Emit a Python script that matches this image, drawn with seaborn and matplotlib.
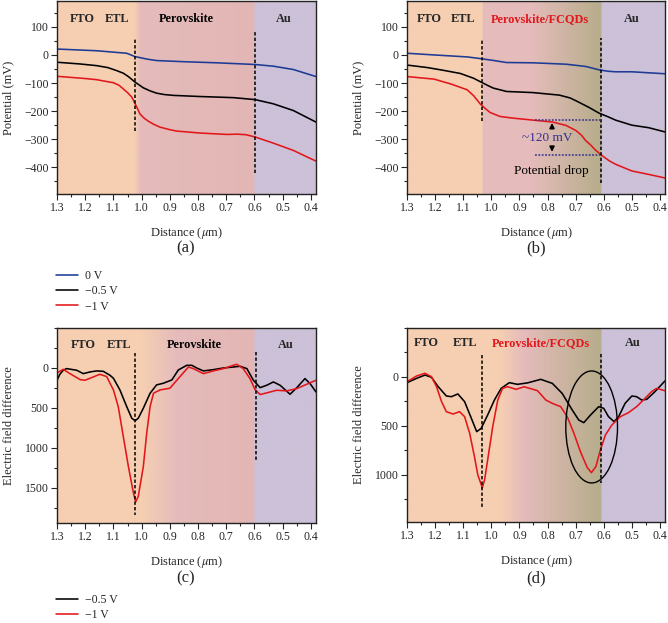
import numpy as np
import matplotlib
matplotlib.use("Agg")
import matplotlib.pyplot as plt
from matplotlib.patches import Ellipse
from matplotlib.lines import Line2D
from matplotlib.ticker import MultipleLocator, FormatStrFormatter
import seaborn as sns

# ---- data ----
# (a) potential, control device
xa_0v = [1.30, 1.16, 1.053, 1.023, 0.98, 0.947, 0.852, 0.734, 0.598, 0.533, 0.462, 0.382]
ya_0v = [21, 15, 6, -6, -15, -20, -24, -28, -34, -40, -52, -77]
xa_05v = [1.30, 1.22, 1.16, 1.12, 1.088, 1.065, 1.047, 1.023, 0.994, 0.97, 0.947, 0.92,
          0.887, 0.793, 0.675, 0.598, 0.533, 0.462, 0.382]
ya_05v = [-26, -32, -38, -45, -56, -65, -77, -97, -117, -128, -136, -141,
          -144, -148, -152, -159, -174, -198, -239]
xa_1v = [1.30, 1.2, 1.16, 1.10, 1.08, 1.065, 1.05, 1.035, 1.02, 1.006, 0.99, 0.976, 0.955,
         0.935, 0.9, 0.876, 0.793, 0.698, 0.66, 0.63, 0.598, 0.533, 0.462, 0.382]
ya_1v = [-76, -84, -88, -99, -108, -121, -134, -150, -180, -210, -226, -236, -248,
         -257, -266, -271, -278, -283, -282, -284, -292, -314, -340, -378]

# (b) potential, FCQDs device
xb_0v = [1.30, 1.204, 1.086, 1.039, 0.99, 0.946, 0.852, 0.734, 0.664, 0.617, 0.585, 0.558, 0.5, 0.382]
yb_0v = [6, 0, -7, -13, -20, -27, -28, -33, -41, -53, -58, -60, -60, -67]
xb_05v = [1.30, 1.227, 1.169, 1.11, 1.063, 1.034, 1.01, 0.993, 0.946, 0.852, 0.758, 0.72,
          0.699, 0.652, 0.617, 0.585, 0.558, 0.5, 0.44, 0.382]
yb_05v = [-36, -45, -55, -66, -83, -98, -110, -118, -130, -134, -143, -153,
          -163, -187, -207, -220, -232, -250, -259, -274]
xb_1v = [1.30, 1.204, 1.145, 1.086, 1.063, 1.039, 1.02, 1.004, 0.969, 0.922, 0.852, 0.781,
         0.734, 0.699, 0.68, 0.664, 0.645, 0.629, 0.605, 0.58, 0.558, 0.5, 0.441, 0.382]
yb_1v = [-77, -86, -103, -124, -145, -175, -192, -205, -219, -225, -232, -239,
         -251, -269, -285, -305, -322, -339, -359, -377, -389, -413, -425, -438]

# (c) electric field difference, control device
xc_05v = [1.30, 1.29, 1.278, 1.266, 1.23, 1.207, 1.183, 1.16, 1.136, 1.112, 1.10, 1.077,
          1.053, 1.035, 1.023, 1.012, 0.994, 0.97, 0.947, 0.923, 0.893, 0.87, 0.84,
          0.822, 0.805, 0.781, 0.746, 0.71, 0.675, 0.651, 0.627, 0.604, 0.58, 0.557,
          0.533, 0.509, 0.474, 0.45, 0.421, 0.403, 0.382]
yc_05v = [154, 80, 29, 8, 29, 71, 50, 37, 42, 92, 129, 275,
          483, 629, 660, 629, 504, 316, 212, 191, 150, 25, -33,
          -33, 0, 37, 21, 0, -12, -21, 8, 154, 246, 217,
          175, 217, 329, 246, 133, 196, 300]
xc_1v = [1.30, 1.278, 1.254, 1.218, 1.201, 1.171, 1.148, 1.124, 1.10, 1.083, 1.065, 1.047,
         1.029, 1.021, 1.012, 0.994, 0.982, 0.97, 0.958, 0.935, 0.90, 0.864, 0.852, 0.834,
         0.817, 0.781, 0.746, 0.71, 0.675, 0.663, 0.64, 0.616, 0.598, 0.58, 0.557, 0.521,
         0.486, 0.45, 0.415, 0.382]
yc_1v = [62, 17, 71, 146, 154, 112, 79, 108, 275, 483, 858, 1233,
         1566, 1675, 1608, 1233, 816, 483, 316, 275, 254, 108, 60, -12,
         8, 71, 37, 8, -33, -46, 8, 133, 271, 333, 312, 279,
         287, 258, 204, 154]

# (d) electric field difference, FCQDs device
xd_05v = [1.30, 1.266, 1.236, 1.213, 1.189, 1.16, 1.142, 1.119, 1.095, 1.071, 1.052, 1.036,
          1.013, 0.989, 0.965, 0.936, 0.907, 0.871, 0.824, 0.783, 0.748, 0.712, 0.689,
          0.671, 0.647, 0.618, 0.60, 0.583, 0.563, 0.547, 0.524, 0.50, 0.483, 0.465,
          0.447, 0.418, 0.382]
yd_05v = [58, 14, -20, 3, 99, 194, 201, 173, 252, 422, 558, 524,
          388, 235, 116, 58, 75, 60, 24, 65, 167, 337, 439,
          466, 388, 303, 320, 405, 456, 405, 269, 194, 201, 235,
          228, 150, 40]
xd_1v = [1.30, 1.266, 1.236, 1.213, 1.195, 1.177, 1.16, 1.136, 1.113, 1.095, 1.077, 1.06,
         1.048, 1.032, 1.024, 1.013, 0.995, 0.977, 0.96, 0.942, 0.912, 0.883, 0.836, 0.806,
         0.783, 0.753, 0.73, 0.706, 0.683, 0.659, 0.644, 0.628, 0.612, 0.594, 0.571, 0.541,
         0.512, 0.483, 0.453, 0.43, 0.412, 0.382]
yd_1v = [48, -10, -38, -3, 99, 252, 354, 378, 354, 405, 575, 813,
         1000, 1130, 1051, 847, 507, 235, 116, 99, 126, 100, 139, 235,
         269, 303, 405, 575, 762, 922, 976, 915, 745, 592, 490, 405,
         364, 303, 218, 150, 116, 140]

labels_pot = ["0 V", "\u22120.5 V", "\u22121 V"]
labels_field = ["\u22120.5 V", "\u22121 V"]

BLUE = "#1d3b94"
RED = "#e3161b"
BLACK = "#000000"

ORANGE = (246, 207, 178)
PINK = (229, 188, 187)
PINK2 = (226, 182, 181)
OLIVE = (182, 173, 139)
PURPLE = (204, 193, 216)

sns.set_style("ticks")
plt.rcParams["font.family"] = ["Liberation Serif", "DejaVu Serif"]
plt.rcParams["mathtext.fontset"] = "stix"

fig = plt.figure(figsize=(6.68, 6.23), dpi=100)
W, H = 668, 623


def add_ax(left, right, top, bottom):
    return fig.add_axes([left / W, 1 - bottom / H, (right - left) / W, (bottom - top) / H])


ax_a = add_ax(57, 316, 1, 194)
ax_b = add_ax(407, 665, 1, 194)
ax_c = add_ax(57, 316, 328, 523)
ax_d = add_ax(407, 665, 328, 522)

XMIN, XMAX = 1.3, 0.382


def background(ax, stops, ylim):
    xs = np.linspace(XMIN, XMAX, 800)
    sx = [s[0] for s in stops]
    img = np.zeros((2, len(xs), 3))
    for ch in range(3):
        vals = [s[1][ch] / 255 for s in stops]
        img[:, :, ch] = np.interp(-xs, [-v for v in sx], vals)
    ax.imshow(img, extent=[XMIN, XMAX, ylim[0], ylim[1]], aspect="auto", zorder=0,
              interpolation="bilinear")


def style(ax, ylim, ymin, ylabel):
    ax.set_xlim(XMIN, XMAX)
    ax.set_ylim(*ylim)
    ax.xaxis.set_major_locator(MultipleLocator(0.1))
    ax.xaxis.set_minor_locator(MultipleLocator(0.05))
    ax.xaxis.set_major_formatter(FormatStrFormatter("%.1f"))
    ax.yaxis.set_minor_locator(MultipleLocator(ymin))
    ax.tick_params(which="major", direction="out", length=4, width=0.8, labelsize=8.5,
                   pad=2, top=False, right=False)
    ax.tick_params(which="minor", direction="out", length=2.5, width=0.8, top=False, right=False)
    for sp in ax.spines.values():
        sp.set_linewidth(1.0)
        sp.set_color("#222222")
    ax.set_xlabel(r"Distance ($\mu$m)", fontsize=9, labelpad=8)
    ax.set_ylabel(ylabel, fontsize=9, labelpad=7)


def vdash(ax, x, y0, y1):
    ax.plot([x, x], [y0, y1], color="black", lw=1.1, ls=(0, (2.2, 1.4)), zorder=3)


lw = 1.15

# (a)
ylim_ab = (-495, 192)
background(ax_a, [(1.3, ORANGE), (1.025, ORANGE), (1.005, PINK), (0.601, PINK2),
                  (0.599, PURPLE), (0.38, PURPLE)], ylim_ab)
sns.lineplot(x=xa_0v, y=ya_0v, ax=ax_a, color=BLUE, lw=lw)
sns.lineplot(x=xa_05v, y=ya_05v, ax=ax_a, color=BLACK, lw=lw)
sns.lineplot(x=xa_1v, y=ya_1v, ax=ax_a, color=RED, lw=lw)
vdash(ax_a, 1.022, -270, 60)
vdash(ax_a, 0.598, -420, 90)

# (b)
background(ax_b, [(1.3, ORANGE), (1.033, ORANGE), (1.031, PINK), (0.86, PINK),
                  (0.612, OLIVE), (0.609, PURPLE), (0.38, PURPLE)], ylim_ab)
sns.lineplot(x=xb_0v, y=yb_0v, ax=ax_b, color=BLUE, lw=lw)
sns.lineplot(x=xb_05v, y=yb_05v, ax=ax_b, color=BLACK, lw=lw)
sns.lineplot(x=xb_1v, y=yb_1v, ax=ax_b, color=RED, lw=lw)
vdash(ax_b, 1.032, -235, 57)
vdash(ax_b, 0.61, -455, 60)
NAVY = "#35308f"
ax_b.plot([0.845, 0.612], [-232, -232], color=NAVY, lw=1.1, ls=(0, (1.2, 1.0)), zorder=3)
ax_b.plot([0.845, 0.612], [-355, -355], color=NAVY, lw=1.1, ls=(0, (1.2, 1.0)), zorder=3)
ax_b.annotate("", xy=(0.784, -232), xytext=(0.784, -272),
              arrowprops=dict(arrowstyle="-|>", color="black", lw=1.2, mutation_scale=7))
ax_b.annotate("", xy=(0.784, -355), xytext=(0.784, -318),
              arrowprops=dict(arrowstyle="-|>", color="black", lw=1.2, mutation_scale=7))
ax_b.text(0.80, -296, "~120 mV", color=NAVY, fontsize=9.5, ha="center", va="center", zorder=4)
ax_b.text(0.785, -413, "Potential drop", color="black", fontsize=9.5, ha="center", va="center",
          zorder=4)

for ax in (ax_a, ax_b):
    style(ax, ylim_ab, 50, "Potential (mV)")
    ax.set_yticks([-400, -300, -200, -100, 0, 100])

# (c)
ylim_c = (1940, -500)
background(ax_c, [(1.3, ORANGE), (1.0, ORANGE), (0.88, PINK), (0.601, PINK2),
                  (0.599, PURPLE), (0.38, PURPLE)], ylim_c)
sns.lineplot(x=xc_05v, y=yc_05v, ax=ax_c, color=BLACK, lw=lw)
sns.lineplot(x=xc_1v, y=yc_1v, ax=ax_c, color=RED, lw=lw)
vdash(ax_c, 1.022, -190, 1840)
vdash(ax_c, 0.596, -200, 1180)
style(ax_c, ylim_c, 250, "Electric field difference")
ax_c.set_yticks([0, 500, 1000, 1500])

# (d)
ylim_d = (1480, -500)
background(ax_d, [(1.3, ORANGE), (0.97, ORANGE), (0.89, PINK), (0.612, OLIVE),
                  (0.609, PURPLE), (0.38, PURPLE)], ylim_d)
sns.lineplot(x=xd_05v, y=yd_05v, ax=ax_d, color=BLACK, lw=lw)
sns.lineplot(x=xd_1v, y=yd_1v, ax=ax_d, color=RED, lw=lw)
vdash(ax_d, 1.032, -225, 1330)
vdash(ax_d, 0.61, -230, 1085)
ax_d.add_patch(Ellipse((0.643, 510), width=0.184, height=1143, fill=False,
                       ec="black", lw=1.0, zorder=4))
style(ax_d, ylim_d, 250, "Electric field difference")
ax_d.set_yticks([0, 500, 1000])

# region labels
reg = dict(fontsize=8.8, fontweight="bold", ha="center", va="center", zorder=5)
for ax, y, xs, pero, pcol in [
    (ax_a, 128, (1.212, 1.086, 0.843, 0.495), "Perovskite", "black"),
    (ax_b, 128, (1.22, 1.10, 0.826, 0.50), "Perovskite/FCQDs", RED),
    (ax_c, -290, (1.208, 1.08, 0.814, 0.488), "Perovskite", "black"),
    (ax_d, -347, (1.23, 1.095, 0.823, 0.495), "Perovskite/FCQDs", RED),
]:
    ax.text(xs[0], y, "FTO", **reg)
    ax.text(xs[1], y, "ETL", **reg)
    ax.text(xs[2], y, pero, color=pcol, **reg)
    ax.text(xs[3], y, "Au", **reg)

# panel tags
for x, y, t in [(186, 248, "(a)"), (536, 248, "(b)"), (186, 578, "(c)"), (536, 578, "(d)")]:
    fig.text(x / W, 1 - y / H, t, fontsize=12, ha="center", va="center")

# legends
leg_kw = dict(loc="upper left", frameon=False, fontsize=8.5, handlelength=1.85,
              handletextpad=0.6, labelspacing=0.28, borderaxespad=0, borderpad=0)
h_pot = [Line2D([], [], color=c, lw=lw) for c in (BLUE, BLACK, RED)]
fig.legend(h_pot, labels_pot, bbox_to_anchor=(56 / W, 1 - 270 / H), **leg_kw)
h_field = [Line2D([], [], color=c, lw=lw) for c in (BLACK, RED)]
fig.legend(h_field, labels_field, bbox_to_anchor=(56 / W, 1 - 594 / H), **leg_kw)

fig.savefig("out.png", dpi=100)
